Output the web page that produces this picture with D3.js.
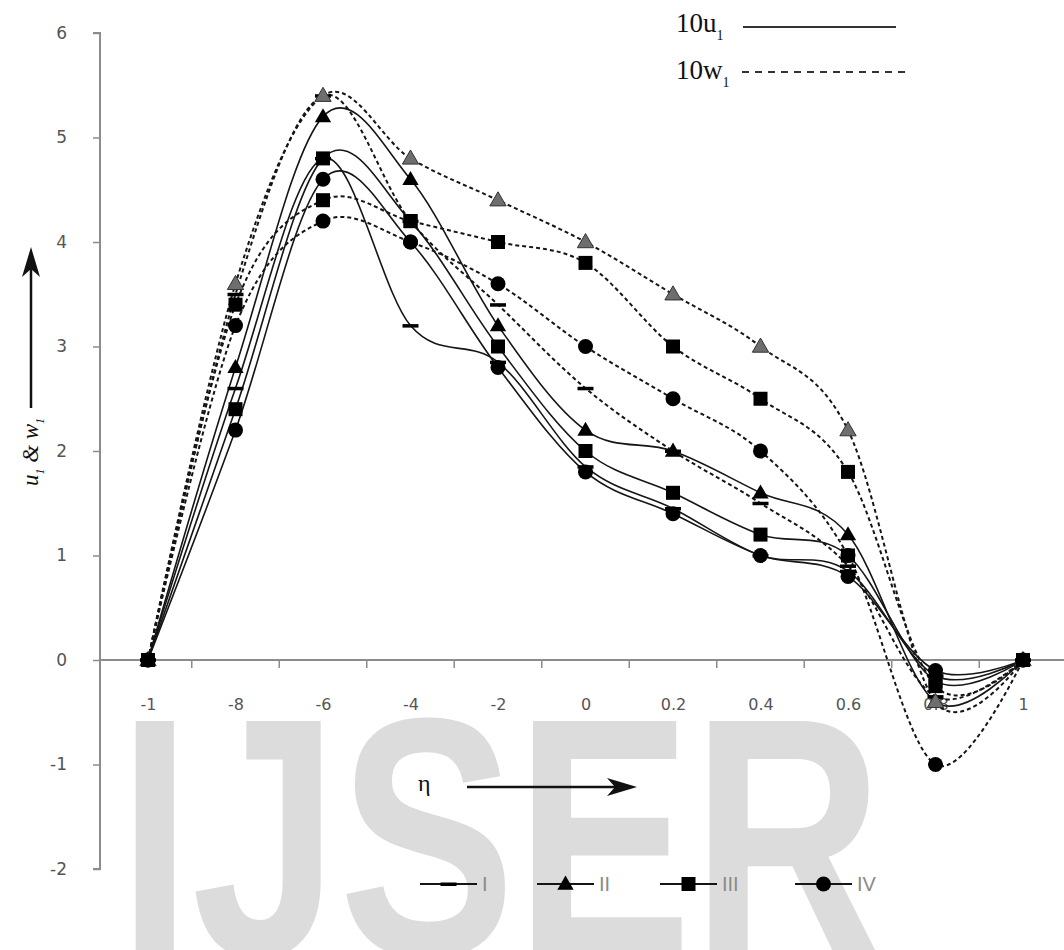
<!DOCTYPE html>
<html>
<head>
<meta charset="utf-8">
<script src="https://cdn.jsdelivr.net/npm/d3@7"></script>
<style>
body { margin: 0; background: #fff; }
svg { display: block; }
</style>
</head>
<body>
<div id="chart"></div>
<script>
// categories on the eta axis (labels as printed)
var categories = ['-1', '-8', '-6', '-4', '-2', '0', '0.2', '0.4', '0.6', '0.8', '1'];
var yTicks = [-2, -1, 0, 1, 2, 3, 4, 5, 6];

// 10u1 (solid)
var uI   = [0, 2.6, 4.8, 3.2, 2.85, 1.85, 1.45, 1.0, 0.85, -0.15, 0];
var uII  = [0, 2.8, 5.2, 4.6, 3.2, 2.2, 2.0, 1.6, 1.2, -0.4, 0];
var uIII = [0, 2.4, 4.8, 4.2, 3.0, 2.0, 1.6, 1.2, 1.0, -0.2, 0];
var uIV  = [0, 2.2, 4.6, 4.0, 2.8, 1.8, 1.4, 1.0, 0.8, -0.1, 0];

// 10w1 (dashed)
var wI   = [0, 3.5, 5.4, 4.2, 3.4, 2.6, 2.0, 1.5, 0.9, -0.35, 0];
var wII  = [0, 3.6, 5.4, 4.8, 4.4, 4.0, 3.5, 3.0, 2.2, -0.4, 0];
var wIII = [0, 3.4, 4.4, 4.2, 4.0, 3.8, 3.0, 2.5, 1.8, -0.25, 0];
var wIV  = [0, 3.2, 4.2, 4.0, 3.6, 3.0, 2.5, 2.0, 1.0, -1.0, 0];

var legendNames = ['I', 'II', 'III', 'IV'];
var legendMarkers = ['dash', 'triangle', 'square', 'circle'];

var series = [
    { values: uI, marker: 'dash', dashed: false },
    { values: uII, marker: 'triangle', dashed: false },
    { values: uIII, marker: 'square', dashed: false },
    { values: uIV, marker: 'circle', dashed: false },
    { values: wI, marker: 'dash', dashed: true },
    { values: wII, marker: 'grayTriangle', dashed: true },
    { values: wIV, marker: 'circle', dashed: true },
    { values: wIII, marker: 'square', dashed: true }
];

var width = 1064, height = 950;
var axisColor = '#8c8c8c';
var ink = '#151515';

var svg = d3.select('#chart')
    .append('svg')
    .attr('width', width)
    .attr('height', height);

// watermark behind everything
svg.append('text')
    .attr('x', 118)
    .attr('y', 955)
    .attr('font-family', 'Liberation Sans, Arial, sans-serif')
    .attr('font-weight', 'bold')
    .attr('font-size', 340)
    .attr('textLength', 765)
    .attr('lengthAdjust', 'spacingAndGlyphs')
    .attr('fill', '#dcdcdc')
    .text('IJSER');

var x = d3.scalePoint().domain(categories).range([148, 1023]);
var y = d3.scaleLinear().domain([-2, 6]).range([869, 33]);
var step = x.step();

// y axis
var yAxis = d3.axisLeft(y).tickValues(yTicks).tickSize(7).tickPadding(26).tickFormat(d => String(d));
var gy = svg.append('g')
    .attr('transform', 'translate(100,0)')
    .call(yAxis);
gy.select('.domain').attr('stroke', axisColor).attr('stroke-width', 2).attr('d', 'M-7,' + y(6) + 'H0V' + y(-2) + 'H-7');
gy.selectAll('.tick line').attr('stroke', axisColor).attr('stroke-width', 1.5);
gy.selectAll('.tick text')
    .attr('fill', '#555')
    .attr('font-family', 'DejaVu Sans, Verdana, sans-serif')
    .attr('font-size', 17);

// x axis at zero
var gx = svg.append('g')
    .attr('transform', 'translate(0,' + y(0) + ')')
    .call(d3.axisBottom(x).tickSize(0).tickPadding(39));
gx.select('.domain').remove();
gx.selectAll('.tick text')
    .attr('fill', '#555')
    .attr('font-family', 'DejaVu Sans, Verdana, sans-serif')
    .attr('font-size', 16);
gx.append('line')
    .attr('x1', 100).attr('x2', width)
    .attr('stroke', axisColor).attr('stroke-width', 2);
// ticks between categories
gx.selectAll('line.bound')
    .data(categories.slice(1))
    .enter()
    .append('line')
    .attr('class', 'bound')
    .attr('x1', d => x(d) - step / 2)
    .attr('x2', d => x(d) - step / 2)
    .attr('y1', 0)
    .attr('y2', 8)
    .attr('stroke', axisColor)
    .attr('stroke-width', 1.5);

// lines
var line = d3.line()
    .x((d, i) => x(categories[i]))
    .y(d => y(d))
    .curve(d3.curveCardinal.tension(0));

svg.append('g')
    .selectAll('path')
    .data(series)
    .enter()
    .append('path')
    .attr('d', d => line(d.values))
    .attr('fill', 'none')
    .attr('stroke', ink)
    .attr('stroke-width', d => d.dashed ? 2 : 1.6)
    .attr('stroke-dasharray', d => d.dashed ? '4,3' : null);

function drawMarker(g, type, cx, cy) {
    if (type === 'square') {
        g.append('rect').attr('x', cx - 7).attr('y', cy - 7).attr('width', 14).attr('height', 14).attr('fill', '#000');
    } else if (type === 'circle') {
        g.append('circle').attr('cx', cx).attr('cy', cy).attr('r', 7.5).attr('fill', '#000');
    } else if (type === 'dash') {
        g.append('rect').attr('x', cx - 8).attr('y', cy - 1.5).attr('width', 16).attr('height', 3.5).attr('fill', '#000');
    } else {
        var gray = type === 'grayTriangle';
        g.append('path')
            .attr('d', d3.symbol().type(d3.symbolTriangle).size(115)())
            .attr('transform', 'translate(' + cx + ',' + (cy + 1) + ')')
            .attr('fill', gray ? '#6e6e6e' : '#000')
            .attr('stroke', gray ? '#333' : 'none')
            .attr('stroke-width', 1);
    }
}

var markerLayer = svg.append('g');
series.forEach(function (s) {
    s.values.forEach(function (v, i) {
        drawMarker(markerLayer, s.marker, x(categories[i]), y(v));
    });
});

// top legend
var serif = 'Liberation Serif, Times New Roman, serif';
var topLegend = svg.append('g').attr('font-family', serif).attr('fill', '#111');
var t1 = topLegend.append('text').attr('x', 676).attr('y', 32).attr('font-size', 27);
t1.append('tspan').text('10u');
t1.append('tspan').attr('font-size', 14).attr('dy', 8).text('1');
var t2 = topLegend.append('text').attr('x', 676).attr('y', 79).attr('font-size', 27);
t2.append('tspan').text('10w');
t2.append('tspan').attr('font-size', 14).attr('dy', 8).text('1');
topLegend.append('line').attr('x1', 743).attr('x2', 896).attr('y1', 27).attr('y2', 27)
    .attr('stroke', '#333').attr('stroke-width', 2);
topLegend.append('line').attr('x1', 742).attr('x2', 908).attr('y1', 72).attr('y2', 72)
    .attr('stroke', '#333').attr('stroke-width', 2).attr('stroke-dasharray', '7,6');

// arrows
function arrowHead(tx, ty, angle) {
    svg.append('path')
        .attr('d', 'M0,0L-30,-9L-22,0L-30,9Z')
        .attr('transform', 'translate(' + tx + ',' + ty + ') rotate(' + angle + ')')
        .attr('fill', '#111');
}

svg.append('line').attr('x1', 467).attr('x2', 615).attr('y1', 787).attr('y2', 787)
    .attr('stroke', '#111').attr('stroke-width', 2.5);
arrowHead(637, 787, 0);
svg.append('text').attr('x', 418).attr('y', 791).attr('font-family', serif).attr('font-size', 24)
    .attr('fill', '#111').text('η');

svg.append('line').attr('x1', 31).attr('x2', 31).attr('y1', 408).attr('y2', 268)
    .attr('stroke', '#111').attr('stroke-width', 2.5);
arrowHead(31, 247, -90);

var yl = svg.append('text')
    .attr('transform', 'translate(38,452) rotate(-90)')
    .attr('text-anchor', 'middle')
    .attr('font-family', serif)
    .attr('font-style', 'italic')
    .attr('font-size', 23)
    .attr('fill', '#111');
yl.append('tspan').text('u');
yl.append('tspan').attr('font-size', 12).attr('dy', 6).text('1');
yl.append('tspan').attr('dy', -6).text(' & w');
yl.append('tspan').attr('font-size', 12).attr('dy', 6).text('1');

// bottom legend
var legendX = [420, 537, 660, 795];
var bottomLegend = svg.append('g');
legendNames.forEach(function (name, i) {
    var lx = legendX[i];
    bottomLegend.append('line').attr('x1', lx).attr('x2', lx + 57).attr('y1', 884).attr('y2', 884)
        .attr('stroke', ink).attr('stroke-width', 2);
    drawMarker(bottomLegend, legendMarkers[i], lx + 28.5, 884);
    bottomLegend.append('text')
        .attr('x', lx + 62).attr('y', 891)
        .attr('font-family', 'Liberation Sans, Arial, sans-serif')
        .attr('font-size', 20)
        .attr('fill', '#8a8a8a')
        .text(name);
});
</script>
</body>
</html>
